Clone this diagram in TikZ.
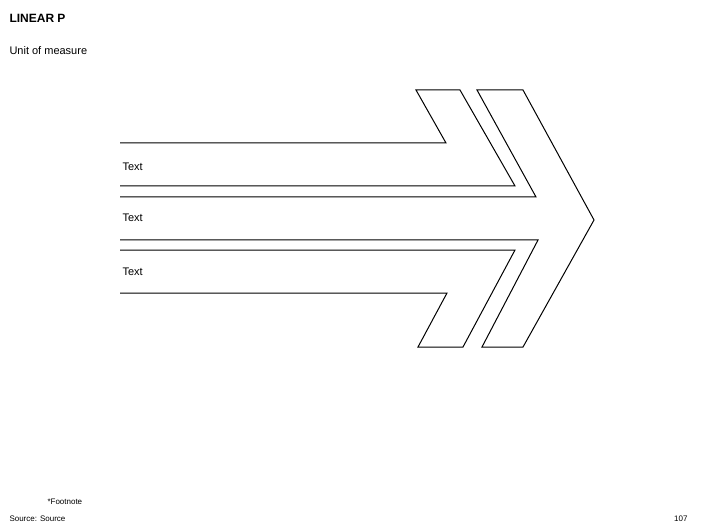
\documentclass[tikz,border=0pt]{standalone}
\usepackage{fontspec}
\setmainfont{Liberation Sans}
\begin{document}
\begin{tikzpicture}[x=1pt,y=-1pt,line width=1pt,
  lbl/.style={anchor=west,inner sep=0pt,font=\fontsize{11}{13}\selectfont},
  small/.style={anchor=west,inner sep=0pt,font=\fontsize{8}{10}\selectfont}]
\useasboundingbox[fill=white] (0,0) rectangle (706,529);
\draw[line join=miter] (120,143)--(446,143)--(416,90)--(460,90)--(515,186)--(120,186);
\draw[line join=miter] (120,250)--(515,250)--(463,347)--(418,347)--(447,293)--(120,293);
\draw[line join=miter] (120,197)--(536,197)--(477,90)--(523,90)--(594,220)--(523,347)--(482,347)--(538,240)--(120,240);
\node[lbl] (t1) at (122,167) {Text};
\node[lbl] (t2) at (122,218) {Text};
\node[lbl] (t3) at (122,272) {Text};
\node[anchor=west,inner sep=0pt,font=\fontsize{12}{14}\selectfont\bfseries] (title) at (9,18) {LINEAR P};
\node[lbl,font=\fontsize{11}{13}\selectfont] (unit) at (9,51) {Unit of measure};
\node[small] (fn) at (47,502) {*Footnote};
\node[small] (src) at (9,519) {Source: Source};
\node[small,anchor=east] (pg) at (688,519) {107};
\end{tikzpicture}
\end{document}
